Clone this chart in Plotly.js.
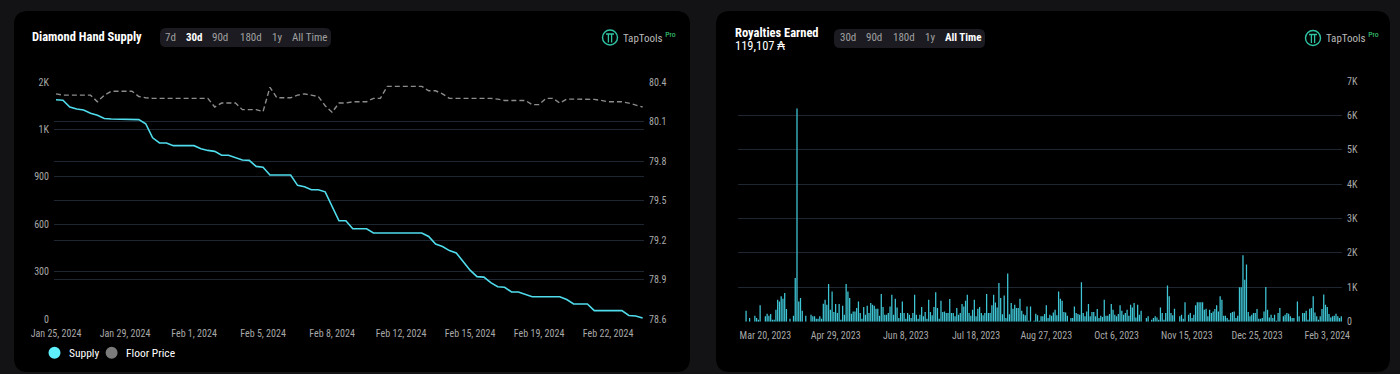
<!DOCTYPE html>
<html><head><meta charset="utf-8">
<script src="https://cdn.plot.ly/plotly-3.0.1.min.js"></script>
<style>html,body{margin:0;padding:0;background:#131316;overflow:hidden}#chart{width:1400px;height:374px}</style>
</head><body><div id="chart"></div>
<script>
// ---------------- DATA ----------------
const supplyTitle = 'Diamond Hand Supply';
const supplyTabs = ['7d','30d','90d','180d','1y','All Time'];
const supplyActiveTab = '30d';
const supplyStart = '2024-01-25T18:00:00Z';   // first sample
const supplyStepHours = 8.4;                  // sampling interval
const supplyValues = [1388,1385,1342,1329,1323,1302,1289,1269,1266,1266,1266,1266,1262,1236,1147,1114,1114,1097,1097,1097,1097,1078,1067,1061,1036,1036,1019,1006,1004,966,960,911,911,911,911,846,837,818,818,805,709,622,622,571,571,571,544,544,544,544,544,544,544,544,522,474,459,433,418,361,309,268,265,230,204,201,171,171,155,141,141,141,141,141,123,95,95,95,53,53,53,53,53,22,19,6];
const floorPrice = [80.31,80.30,80.30,80.30,80.30,80.30,80.25,80.30,80.33,80.33,80.33,80.33,80.29,80.28,80.276,80.276,80.276,80.276,80.276,80.276,80.276,80.276,80.276,80.21,80.24,80.24,80.24,80.19,80.19,80.19,80.175,80.36,80.28,80.28,80.28,80.30,80.31,80.30,80.29,80.22,80.17,80.24,80.24,80.25,80.25,80.25,80.276,80.276,80.367,80.367,80.367,80.367,80.367,80.367,80.333,80.333,80.31,80.276,80.276,80.276,80.276,80.276,80.276,80.276,80.27,80.26,80.26,80.26,80.26,80.228,80.228,80.276,80.276,80.24,80.27,80.27,80.27,80.27,80.268,80.26,80.25,80.25,80.25,80.24,80.225,80.21];
const supplyTickVals = [0,300,600,900,1200,1500];
const supplyTickText = ['0','300','600','900','1K','2K'];
const priceTickVals = [78.6,78.9,79.2,79.5,79.8,80.1,80.4];
const priceTickText = ['78.6','78.9','79.2','79.5','79.8','80.1','80.4'];
const seriesNames = ['Supply','Floor Price'];

const royaltyTitle = 'Royalties Earned';
const royaltyTotal = '119,107 ₳';
const royaltyTabs = ['30d','90d','180d','1y','All Time'];
const royaltyActiveTab = 'All Time';
const royaltyStart = '2023-03-09';
const royalties = [
320,0,107,0,0,175,107,60,475,0,
0,155,230,175,225,60,60,350,640,590,
737,670,835,370,0,85,0,175,1270,6200,
590,690,320,0,175,0,0,200,155,155,
85,85,155,85,525,640,495,1100,350,880,
280,515,250,515,60,465,200,1100,880,690,
230,300,300,400,590,250,85,430,200,465,
250,545,495,465,380,380,175,805,430,200,
200,250,445,785,200,670,415,107,250,590,
250,85,250,200,107,250,785,200,85,200,
430,155,280,85,640,280,185,430,855,400,
85,610,280,300,250,250,660,250,250,155,
400,200,250,515,445,610,785,250,175,350,
640,155,380,430,250,185,250,805,250,250,
475,785,555,415,1125,690,220,760,107,1400,
220,545,380,495,400,400,670,320,220,185,
445,30,445,0,30,230,185,30,
155,155,225,475,107,200,175,270,350,185,880,670,
610,280,270,175,0,107,107,445,250,225,
200,1145,250,155,300,515,155,280,280,155,
370,107,175,135,640,175,175,225,515,350,
200,155,225,475,320,200,250,350,175,495,
415,545,125,495,200,320,0,0,107,155,
0,60,107,155,125,60,415,250,60,250,
1050,740,250,185,380,0,0,155,200,85,
565,0,200,250,107,200,475,565,565,565,
565,350,380,155,350,250,300,370,475,300,
740,640,175,175,107,60,250,280,300,107,
175,1000,1000,1930,1220,1660,280,155,200,250,
250,370,85,85,107,300,1010,350,125,200,
107,200,30,250,400,0,155,200,250,230,
155,107,107,0,590,155,0,250,250,320,
60,380,400,740,270,155,60,155,370,790,
495,430,225,125,155,175,230,155,107,155];
const royaltyTickVals = [0,1000,2000,3000,4000,5000,6000,7000];
const royaltyTickText = ['0','1K','2K','3K','4K','5K','6K','7K'];
const brand = 'TapTools';
const brandBadge = 'Pro';

// ---------------- HELPERS ----------------
const W = 1400, H = 374;
const X = p => p / W;
const Y = p => 1 - p / H;
const HOUR = 3600000, DAY = 86400000;
const fmt = ms => new Date(ms).toISOString().replace('T',' ').slice(0,19);
const FONT = '"Liberation Sans Narrow","Roboto Condensed","Noto Sans",sans-serif';

const t0 = Date.parse(supplyStart);
const supplyX = supplyValues.map((_, i) => fmt(t0 + i * supplyStepHours * HOUR));
const r0 = Date.parse(royaltyStart + 'T00:00:00Z');
const royaltyX = royalties.map((_, i) => fmt(r0 + i * DAY));

function rr(x0, y0, x1, y1, r) {
  return `M ${X(x0+r)},${Y(y0)} L ${X(x1-r)},${Y(y0)} Q ${X(x1)},${Y(y0)} ${X(x1)},${Y(y0+r)} ` +
         `L ${X(x1)},${Y(y1-r)} Q ${X(x1)},${Y(y1)} ${X(x1-r)},${Y(y1)} L ${X(x0+r)},${Y(y1)} ` +
         `Q ${X(x0)},${Y(y1)} ${X(x0)},${Y(y1-r)} L ${X(x0)},${Y(y0+r)} Q ${X(x0)},${Y(y0)} ${X(x0+r)},${Y(y0)} Z`;
}
function ann(x, y, text, size, color, extra) {
  return Object.assign({xref:'paper', yref:'paper', x:X(x), y:Y(y), text, showarrow:false,
    xanchor:'left', yanchor:'middle', font:{family:FONT, size, color}}, extra || {});
}

// ---------------- TRACES ----------------
const seriesColors = ['#4fdcec', '#8c8c8c'];
const legendColors = ['#5ff0ff', '#7b7b7b'];
const traces = [
  {x: supplyX, y: supplyValues, type:'scatter', mode:'lines', name: seriesNames[0], showlegend:false,
   line:{color:seriesColors[0], width:1.6}, xaxis:'x', yaxis:'y'},
  {x: supplyX, y: floorPrice, type:'scatter', mode:'lines', name: seriesNames[1], showlegend:false,
   line:{color:seriesColors[1], width:1.4, dash:'5px,3px'}, xaxis:'x', yaxis:'y2'},
  {x: royaltyX, y: royalties, type:'bar', name: royaltyTitle, showlegend:false,
   marker:{color:'#3fc6d6', line:{width:0}}, xaxis:'x2', yaxis:'y3'}
];

// ---------------- LAYOUT ----------------
const tickFont = {family:FONT, size:10, color:'#a8a8a8'};
const grid = '#1d2631';

const shapes = [
  {type:'path', xref:'paper', yref:'paper', path: rr(14, 11, 690, 372, 14), fillcolor:'#000', line:{width:0}, layer:'below'},
  {type:'path', xref:'paper', yref:'paper', path: rr(716, 11, 1390, 372, 14), fillcolor:'#000', line:{width:0}, layer:'below'},
  {type:'path', xref:'paper', yref:'paper', path: rr(160, 28, 331, 47, 6), fillcolor:'#1b1b21', line:{width:0}, layer:'below'},
  {type:'path', xref:'paper', yref:'paper', path: rr(834, 29, 985, 48, 6), fillcolor:'#1b1b21', line:{width:0}, layer:'below'}
];
// logos
[[610, 37.5], [1313, 38]].forEach(([cx, cy]) => {
  shapes.push({type:'circle', xref:'paper', yref:'paper', x0:X(cx-7.5), x1:X(cx+7.5), y0:Y(cy+7.5), y1:Y(cy-7.5),
    line:{color:'#2fc3a4', width:1.4}, fillcolor:'rgba(0,0,0,0)'});
  shapes.push({type:'path', xref:'paper', yref:'paper',
    path:`M ${X(cx-4)},${Y(cy-3.5)} L ${X(cx+4)},${Y(cy-3.5)} M ${X(cx-1.6)},${Y(cy-3.5)} L ${X(cx-1.6)},${Y(cy+5)} M ${X(cx+1.6)},${Y(cy-3.5)} L ${X(cx+1.6)},${Y(cy+5)}`,
    line:{color:'#2fc3a4', width:1.3}});
});
// legend markers (circles) for the two series
const legendX = [54.5, 111.6];
legendX.forEach((cx, i) => {
  shapes.push({type:'circle', xref:'paper', yref:'paper', x0:X(cx-6), x1:X(cx+6), y0:Y(352.7+6), y1:Y(352.7-6),
    fillcolor: legendColors[i], line:{width:0}});
});

const annotations = [
  ann(30, 37, `<b>${supplyTitle}</b>`, 12.5, '#ffffff'),
  ann(733, 32.5, `<b>${royaltyTitle}</b>`, 12.5, '#ffffff'),
  ann(733, 45, royaltyTotal, 12.5, '#ffffff'),
  ann(621, 37.5, `${brand} <sup><span style="color:#3ddc84">${brandBadge}</span></sup>`, 11, '#b9b9b9'),
  ann(1324, 38, `${brand} <sup><span style="color:#3ddc84">${brandBadge}</span></sup>`, 11, '#b9b9b9')
];
seriesNames.forEach((n, i) => annotations.push(ann(legendX[i] + 12, 352.7, n, 11.5, '#ffffff')));
const leftTabX = [170, 194, 220, 251, 277, 309];
supplyTabs.forEach((t, i) => {
  const act = t === supplyActiveTab;
  annotations.push(ann(leftTabX[i], 37.5, act ? `<b>${t}</b>` : t, 11, act ? '#ffffff' : '#a0a0a0', {xanchor:'center'}));
});
const rightTabX = [848, 874, 904, 930, 963];
royaltyTabs.forEach((t, i) => {
  const act = t === royaltyActiveTab;
  annotations.push(ann(rightTabX[i], 38, act ? `<b>${t}</b>` : t, 11, act ? '#ffffff' : '#a0a0a0', {xanchor:'center'}));
});

const lx0 = t0 + (-0.29) * supplyStepHours * HOUR;
const lx1 = t0 + 85.2 * supplyStepHours * HOUR;
const rx0 = r0 + (-4.6) * DAY;
const rx1 = r0 + 339.4 * DAY;

const layout = {
  width: W, height: H,
  margin: {l:0, r:0, t:0, b:0, autoexpand:false},
  paper_bgcolor: '#131316', plot_bgcolor: 'rgba(0,0,0,0)',
  font: {family: FONT, color:'#a8a8a8'},
  bargap: 0.28,
  showlegend: false,
  xaxis: {domain:[X(54), X(644)], type:'date', range:[fmt(lx0), fmt(lx1)], tick0: fmt(t0), dtick: 3.5*DAY,
          tickformat:'%b %-d, %Y', showgrid:false, zeroline:false, showline:false, ticks:'',
          tickfont: tickFont, anchor:'y', ticklabelstandoff: 7},
  yaxis: {domain:[Y(319), Y(82)], range:[0,1500], tickvals: supplyTickVals, ticktext: supplyTickText,
          gridcolor: grid, gridwidth:1, zeroline:false, showline:false, ticks:'', tickfont: tickFont,
          anchor:'x', ticklabelstandoff: 4},
  yaxis2: {domain:[Y(319), Y(82)], range:[78.6,80.4], tickvals: priceTickVals, ticktext: priceTickText,
          overlaying:'y', side:'right', anchor:'x', gridcolor: grid, gridwidth:1, zeroline:false, showline:false,
          ticks:'', tickfont: tickFont, ticklabelstandoff: 4, showgrid:true},
  xaxis2: {domain:[X(738), X(1342)], type:'date', range:[fmt(rx0), fmt(rx1)], tick0:'2023-03-20', dtick: 40*DAY,
          tickformat:'%b %-d, %Y', showgrid:false, zeroline:false, showline:false, ticks:'',
          tickfont: tickFont, anchor:'y3', ticklabelstandoff: 6},
  yaxis3: {domain:[Y(321.7), Y(81)], range:[0,7000], tickvals: royaltyTickVals, ticktext: royaltyTickText,
          side:'right', anchor:'x2', gridcolor: grid, gridwidth:1, zeroline:false, showline:false, ticks:'',
          tickfont: tickFont, ticklabelstandoff: 4},
  shapes, annotations
};

Plotly.newPlot('chart', traces, layout, {displayModeBar:false, staticPlot:true});
</script></body></html>
